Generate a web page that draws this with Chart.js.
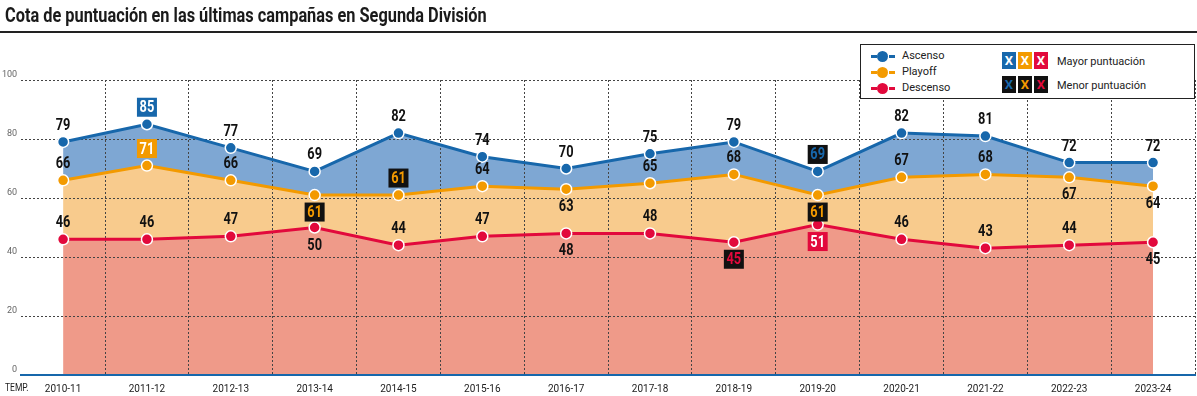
<!DOCTYPE html>
<html>
<head>
<meta charset="utf-8">
<script src="https://cdn.jsdelivr.net/npm/chart.js@4.4.0/dist/chart.umd.min.js"></script>
<style>
  body { margin: 0; background: #fff; font-family: Roboto, sans-serif; }
  #page { position: relative; width: 1197px; height: 396px; overflow: hidden; }
  #chart { position: absolute; left: 0; top: 0; }
  #title { position: absolute; left: 5px; top: 3px; font-weight: bold; font-size: 20px; color: #1a1a1a; white-space: nowrap; transform-origin: 0 0; }
  #rule { position: absolute; left: 0; top: 31px; width: 1197px; height: 2px; background: #222; }
  #temp { position: absolute; left: 5px; top: 382px; font-size: 10px; color: #222; transform: scaleX(0.85); transform-origin: 0 0; }
  #legend { position: absolute; left: 860px; top: 44px; width: 333px; height: 53px; background: #fff; border: 1.5px solid #222; font-size: 11px; color: #222; }
  .item { position: absolute; left: 10px; height: 14px; line-height: 14px; }
  .sym { position: absolute; left: 0; top: 1px; width: 24px; height: 12px; }
  .sym .dash { position: absolute; top: 5px; width: 6px; height: 3px; }
  .sym .dot { position: absolute; left: 6px; top: 1px; width: 11px; height: 11px; border-radius: 50%; }
  .item span.txt { position: absolute; left: 31px; white-space: nowrap; }
  .boxes { position: absolute; left: 141px; }
  .boxes b { display: inline-block; width: 14px; height: 17px; margin-right: 2px; text-align: center; line-height: 17px; font-size: 13px; }
  .btxt { position: absolute; left: 196px; white-space: nowrap; }
</style>
</head>
<body>
<div id="page">
  <canvas id="chart" width="1202" height="396"></canvas>
  <div id="title">Cota de puntuación en las últimas campañas en Segunda División</div>
  <div id="rule"></div>
  <div id="temp">TEMP.</div>
  <div id="legend">
    <div class="item" style="top:4px"><div class="sym"><div class="dash" style="left:0;background:#1767ab"></div><div class="dot" style="background:#1767ab"></div><div class="dash" style="left:18px;background:#1767ab"></div></div><span class="txt">Ascenso</span></div>
    <div class="item" style="top:20px"><div class="sym"><div class="dash" style="left:0;background:#f39a00"></div><div class="dot" style="background:#f39a00"></div><div class="dash" style="left:18px;background:#f39a00"></div></div><span class="txt">Playoff</span></div>
    <div class="item" style="top:36px"><div class="sym"><div class="dash" style="left:0;background:#e2093c"></div><div class="dot" style="background:#e2093c"></div><div class="dash" style="left:18px;background:#e2093c"></div></div><span class="txt">Descenso</span></div>
    <div class="boxes" style="top:7px"><b style="background:#1767ab;color:#fff">X</b><b style="background:#f39a00;color:#fff">X</b><b style="background:#e2093c;color:#fff">X</b></div>
    <div class="btxt" style="top:10px">Mayor puntuación</div>
    <div class="boxes" style="top:31px"><b style="background:#111;color:#1767ab">X</b><b style="background:#111;color:#f39a00">X</b><b style="background:#111;color:#e2093c">X</b></div>
    <div class="btxt" style="top:34px">Menor puntuación</div>
  </div>
</div>
<script>
// DATOS

const temporadas = ['2010-11', '2011-12', '2012-13', '2013-14', '2014-15', '2015-16', '2016-17',
                    '2017-18', '2018-19', '2019-20', '2020-21', '2021-22', '2022-23', '2023-24'];

const ascenso  = [79, 85, 77, 69, 82, 74, 70, 75, 79, 69, 82, 81, 72, 72];
const playoff  = [66, 71, 66, 61, 61, 64, 63, 65, 68, 61, 67, 68, 67, 64];
const descenso = [46, 46, 47, 50, 44, 47, 48, 48, 45, 51, 46, 43, 44, 45];

const yTicks = [0, 20, 40, 60, 80, 100];

// where each value label goes (t = above, b = below) and which ones get a box
const ascensoSide  = ['t','t','t','t','t','t','t','t','t','t','t','t','t','t'];
const playoffSide  = ['t','t','t','b','t','t','b','t','t','b','t','t','b','b'];
const descensoSide = ['t','t','t','b','t','t','b','t','b','b','t','t','t','b'];

const ascensoMark  = ['', 'max', '', '', '', '', '', '', '', 'min', '', '', '', ''];
const playoffMark  = ['', 'max', '', 'min', 'min', '', '', '', '', 'min', '', '', '', ''];
const descensoMark = ['', '', '', '', '', '', '', '', 'min', 'max', '', '', '', ''];

const AZUL = '#1767ab', NARANJA = '#f39a00', ROJO = '#e2093c';

// fit title to its width in the original
const title = document.getElementById('title');
title.style.transform = 'scaleX(' + (482 / title.scrollWidth) + ')';

// ETIQUETAS

const valueLabels = {
  id: 'valueLabels',
  afterDatasetsDraw(chart) {
    const ctx = chart.ctx;
    chart.data.datasets.forEach((ds, di) => {
      const meta = chart.getDatasetMeta(di);
      meta.data.forEach((pt, i) => {
        const below = ds.labelSide[i] === 'b';
        const x = pt.x;
        const y = pt.y + (below ? 17 : -17);
        const mark = ds.labelMark[i];
        ctx.save();
        if (mark) {
          ctx.fillStyle = mark === 'max' ? ds.borderColor : '#111';
          ctx.fillRect(x - 10, y - 9.5, 20, 19);
        }
        ctx.translate(x, y);
        ctx.scale(0.8, 1);
        ctx.font = 'bold 16px Roboto';
        ctx.textAlign = 'center';
        ctx.textBaseline = 'middle';
        ctx.fillStyle = mark === 'max' ? '#fff' : (mark === 'min' ? ds.borderColor : '#111');
        ctx.fillText(String(ds.data[i]), 0, 1);
        ctx.restore();
      });
    });
  }
};

document.addEventListener("DOMContentLoaded", () => {
  const ctxChart = document.getElementById('chart').getContext('2d');

  const serie = (label, data, color, fillColor, fill, side, mark) => ({
    label: label,
    data: data,
    borderColor: color,
    backgroundColor: fillColor,
    fill: fill,
    borderWidth: 3,
    tension: 0,
    pointRadius: 5.5,
    pointBackgroundColor: color,
    pointBorderColor: '#fff',
    pointBorderWidth: 1.5,
    labelSide: side,
    labelMark: mark
  });

  new Chart(ctxChart, {
    type: 'line',
    data: {
      labels: temporadas,
      datasets: [
        serie('Ascenso', ascenso, AZUL, '#7ea7d3', '+1', ascensoSide, ascensoMark),
        serie('Playoff', playoff, NARANJA, '#f8cb8d', '+1', playoffSide, playoffMark),
        serie('Descenso', descenso, ROJO, '#ef9a89', 'origin', descensoSide, descensoMark)
      ]
    },
    options: {
      responsive: false,
      animation: false,
      devicePixelRatio: 1,
      layout: { padding: { top: 80, right: 0, bottom: -7, left: -2 } },
      plugins: {
        legend: { display: false },
        tooltip: { enabled: false },
        filler: { drawTime: 'beforeDraw' }
      },
      scales: {
        x: {
          offset: true,
          grid: {
            offset: true,
            drawTicks: false,
            color: (c) => c.index === 0 ? 'rgba(0,0,0,0)' : '#444',
            lineWidth: 1
          },
          border: { display: true, color: AZUL, width: 2, dash: [2, 2] },
          ticks: {
            color: '#222',
            font: { family: 'Roboto', size: 10 },
            padding: 8,
            maxRotation: 0,
            autoSkip: false
          }
        },
        y: {
          min: 0,
          max: 100,
          afterBuildTicks: (axis) => { axis.ticks = yTicks.map(v => ({ value: v })); },
          grid: { drawTicks: false, color: '#444', lineWidth: 1 },
          border: { display: false, dash: [2, 2] },
          ticks: {
            color: '#666',
            font: { family: 'Roboto', size: 9 },
            padding: 4,
            labelOffset: -5
          }
        }
      }
    },
    plugins: [valueLabels]
  });
});
</script>
</body>
</html>
